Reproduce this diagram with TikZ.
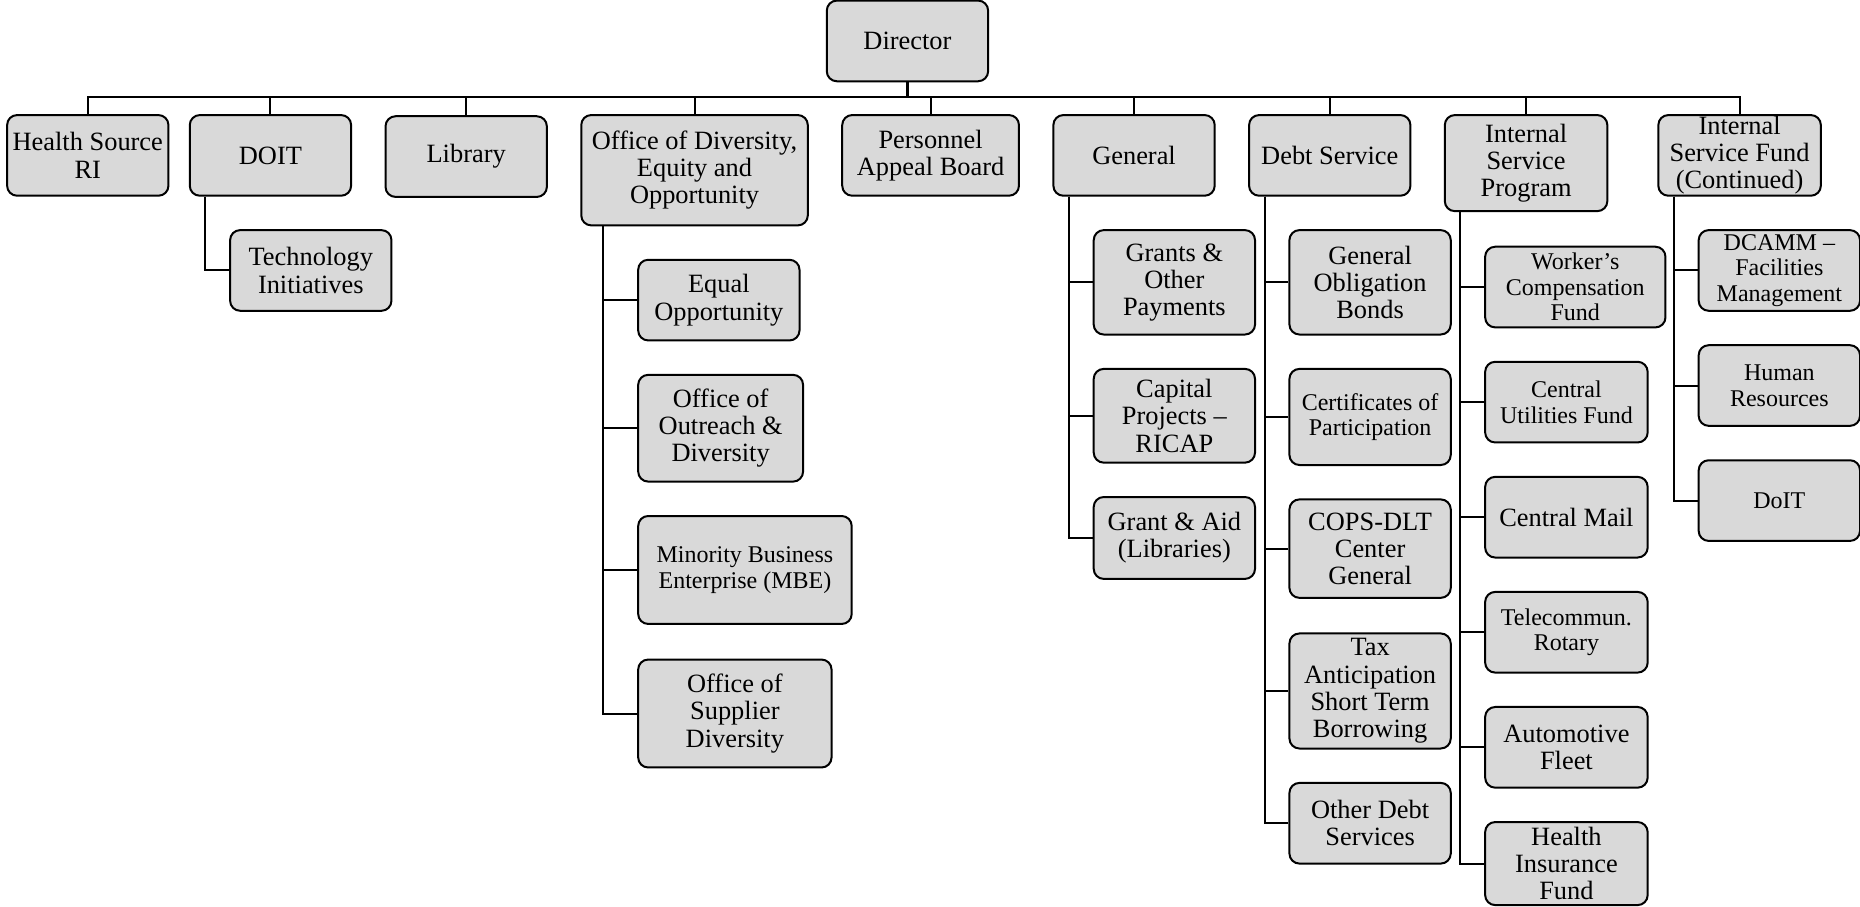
\documentclass[tikz,border=0pt]{standalone}
\usepackage{fontspec}
\setmainfont{Liberation Serif}
\definecolor{boxgray}{HTML}{D9D9D9}
\newcommand\pxu{0.5931pt}
\tikzset{
 unit/.style={draw, line width=1pt, fill=boxgray, rounded corners=5pt, align=center, inner sep=0.5pt,
   minimum width=136*\pxu, minimum height=68*\pxu, font=\fontsize{13.2}{13.6}\selectfont},
 smallunit/.style={unit, font=\fontsize{12}{12.8}\selectfont},
 link/.style={line width=1pt},
}
\begin{document}
\begin{tikzpicture}[x=\pxu, y=-\pxu]
 \useasboundingbox (0,0) rectangle (1568,764);
 \node[unit] (director) at (765,34.5) {Director};
 \node[unit] (hsri)    at (74,131)   {Health Source\\RI};
 \node[unit] (doit)    at (228,131)  {DOIT};
 \node[unit] (library) at (393,132)  {Library};
 \node[unit, minimum width=191*\pxu, minimum height=93*\pxu] (odeo) at (585.5,143.5) {Office of Diversity,\\Equity and\\Opportunity};
 \node[unit, minimum width=149*\pxu] (pab) at (784.5,131) {Personnel\\Appeal Board};
 \node[unit] (general) at (956,131)  {General};
 \node[unit] (debt)    at (1121,131) {Debt Service};
 \node[unit, minimum width=137*\pxu, minimum height=81*\pxu] (isp) at (1286.5,137.5) {Internal\\Service\\Program};
 \node[unit, minimum width=137*\pxu] (isfc) at (1466.5,131) {Internal\\Service Fund\\(Continued)};

 \node[unit] (tech) at (262,228) {Technology\\Initiatives};

 \node[unit] (eqop) at (606,253) {Equal\\Opportunity};
 \node[unit, minimum width=139*\pxu, minimum height=90*\pxu] (outreach) at (607.5,361) {Office of\\Outreach \&\\Diversity};
 \node[smallunit, minimum width=180*\pxu, minimum height=91*\pxu] (mbe) at (628,480.5) {Minority Business\\Enterprise (MBE)};
 \node[unit, minimum width=163*\pxu, minimum height=91*\pxu] (supplier) at (619.5,601.5) {Office of\\Supplier\\Diversity};

 \node[unit, minimum height=88*\pxu] (grants)   at (990,238)   {Grants \&\\Other\\Payments};
 \node[unit, minimum height=79*\pxu] (capital)  at (990,350.5) {Capital\\Projects --\\RICAP};
 \node[unit, minimum height=69*\pxu] (grantaid) at (990,453.5) {Grant \& Aid\\(Libraries)};

 \node[unit, minimum height=88*\pxu] (gob)   at (1155,238)   {General\\Obligation\\Bonds};
 \node[smallunit, minimum height=81*\pxu] (cop) at (1155,351.5) {Certificates of\\Participation};
 \node[unit, minimum height=83*\pxu] (cops)  at (1155,462.5) {COPS-DLT\\Center\\General};
 \node[unit, minimum height=97*\pxu] (tax)   at (1155,582.5) {Tax\\Anticipation\\Short Term\\Borrowing};
 \node[unit] (otherdebt) at (1155,694) {Other Debt\\Services};

 \node[smallunit, minimum width=152*\pxu] (workers) at (1328,242) {Worker's\\Compensation\\Fund};
 \node[smallunit, minimum width=137*\pxu] (cutil) at (1320.5,339) {Central\\Utilities Fund};
 \node[unit, minimum width=137*\pxu] (cmail) at (1320.5,436) {Central Mail};
 \node[smallunit, minimum width=137*\pxu] (telecom) at (1320.5,533) {Telecommun.\\Rotary};
 \node[unit, minimum width=137*\pxu] (auto) at (1320.5,630) {Automotive\\Fleet};
 \node[unit, minimum width=137*\pxu, minimum height=70*\pxu] (health) at (1320.5,728) {Health\\Insurance\\Fund};

 \node[smallunit] (dcamm) at (1500,228) {DCAMM --\\Facilities\\Management};
 \node[smallunit] (hr)    at (1500,325) {Human\\Resources};
 \node[smallunit] (doit2) at (1500,422) {DoIT};

 \coordinate (bus) at (765,82);
 \draw[link, line width=1.5pt] (director.south) -- (bus);
 \draw[link] (hsri.north) |- (bus) -| (isfc.north);
 \foreach \n in {doit,library,odeo,pab,general,debt,isp}
  \draw[link] (\n.north) -- (\n.north |- bus);
 \foreach \p/\d/\kids in {doit/14/{tech}, odeo/19/{eqop,outreach,mbe,supplier},
   general/14/{grants,capital,grantaid}, debt/14/{gob,cop,cops,tax,otherdebt},
   isp/14/{workers,cutil,cmail,telecom,auto,health}, isfc/14/{dcamm,hr,doit2}}
  \foreach \c in \kids
   \draw[link] ([xshift=\d*\pxu]\p.south west) |- (\c.west);
\end{tikzpicture}
\end{document}
